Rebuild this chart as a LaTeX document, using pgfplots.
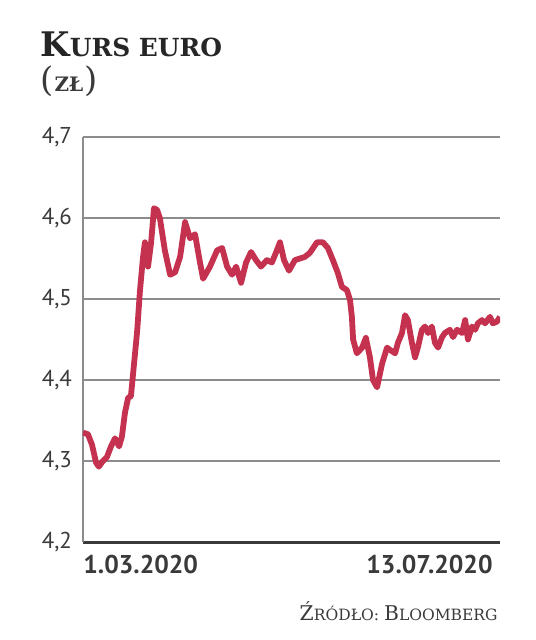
\documentclass[border=0pt]{standalone}
\usepackage{pgfplots}
\pgfplotsset{compat=1.18}
\usepackage{fontspec}
\setmainfont{DejaVu Serif}
\newfontfamily\labfont{PT Sans}
\definecolor{eurline}{HTML}{C4324F}
\definecolor{gridgray}{HTML}{8C8C8C}
\definecolor{txtgray}{HTML}{3A3A3A}

\begin{document}
\begin{tikzpicture}
\path[use as bounding box] (-41.5bp,-49bp) rectangle (226.5bp,271bp);
\begin{axis}[
  anchor=south west, at={(0,0)},
  width=208.5bp, height=202.5bp, scale only axis,
  xmin=0, xmax=134, ymin=4.2, ymax=4.7,
  xtick=\empty,
  ytick={4.2,4.3,4.4,4.5,4.6,4.7},
  ymajorgrids,
  grid style={draw=gridgray, line width=1.2bp},
  axis x line*=bottom, axis y line*=left,
  x axis line style={draw=txtgray, line width=1.5bp},
  y axis line style={draw=gridgray, line width=1bp},
  major tick length=0pt,
  /pgf/number format/fixed,
  /pgf/number format/fixed zerofill,
  /pgf/number format/precision=1,
  /pgf/number format/use comma,
  /pgf/number format/assume math mode=true,
  yticklabel style={font=\labfont\fontsize{11.5}{12}\selectfont, text=txtgray, xshift=-2bp},
]
\addplot[eurline, line width=2.9bp, line join=round] coordinates {
(0,4.335) (1.6,4.333) (2.9,4.32) (4.2,4.298) (5.1,4.293) (6.4,4.300) (7.7,4.305)
(9.0,4.318) (10.3,4.328) (11.6,4.318) (12.5,4.330) (13.5,4.36) (14.5,4.378)
(15.4,4.38) (16.4,4.42) (17.4,4.46) (18.3,4.51) (19.3,4.552) (19.9,4.57)
(20.9,4.54) (21.9,4.57) (22.8,4.612) (23.8,4.61) (24.7,4.60) (26.3,4.56)
(28.0,4.53) (29.6,4.533) (31.2,4.552) (32.8,4.595) (34.4,4.575) (36.0,4.58)
(37.6,4.545) (38.6,4.525) (40.8,4.54) (43.1,4.56) (44.7,4.563) (46.3,4.54)
(47.9,4.53) (49.2,4.54) (50.8,4.52) (52.4,4.545) (54.0,4.558) (55.6,4.548)
(57.2,4.54) (59.1,4.548) (60.7,4.545) (62.3,4.56) (63.3,4.57) (64.6,4.548)
(66.2,4.535) (68.1,4.548) (69.7,4.55) (71.3,4.552) (72.9,4.557) (75.2,4.57)
(77.1,4.57) (78.7,4.563) (80.3,4.548) (81.9,4.532) (83.2,4.515) (84.8,4.511)
(85.8,4.499) (86.4,4.478) (86.8,4.45) (88.0,4.433) (89.7,4.44) (90.9,4.452)
(92.2,4.428) (93.2,4.40) (94.5,4.391) (96.1,4.42) (97.7,4.44) (98.7,4.437)
(100.3,4.433) (101.2,4.446) (102.5,4.458) (103.5,4.48) (104.4,4.474)
(105.7,4.446) (106.7,4.428) (107.6,4.44) (108.9,4.462) (109.9,4.466)
(110.9,4.458) (112.1,4.466) (113.1,4.446) (114.1,4.44) (115.4,4.453)
(116.3,4.458) (117.9,4.462) (118.9,4.453) (120.2,4.462) (121.8,4.458)
(122.8,4.474) (123.7,4.45) (125.0,4.466) (126.0,4.462) (126.9,4.47)
(128.2,4.474) (129.2,4.47) (130.8,4.478) (131.7,4.47) (133.0,4.472) (134.0,4.478)
};
\end{axis}
% title
\node[anchor=base west, inner sep=0pt, text=black!85] at (-21.5bp,242.5bp)
  {\bfseries\fontsize{17}{18}\selectfont K\fontsize{12.5}{14}\selectfont URS EURO};
\node[anchor=base west, inner sep=0pt, text=txtgray] at (-21.5bp,225bp)
  {\fontsize{17}{18}\selectfont (\kern0.5bp\bfseries\fontsize{10}{12}\selectfont ZŁ\kern0.5bp\mdseries\fontsize{17}{18}\selectfont)};
% date labels
\node[anchor=base west, inner sep=0pt, text=txtgray] at (0bp,-15.5bp)
  {\labfont\bfseries\fontsize{12.9}{14}\selectfont 1.03.2020};
\node[anchor=base east, inner sep=0pt, text=txtgray] at (205bp,-15.5bp)
  {\labfont\bfseries\fontsize{12.9}{14}\selectfont 13.07.2020};
% source
\node[anchor=base east, inner sep=0pt, text=txtgray] at (207.5bp,-39bp)
  {\fontsize{10.2}{11}\selectfont Ź\fontsize{7.8}{9}\selectfont RÓDŁO: \fontsize{10.2}{11}\selectfont B\fontsize{7.8}{9}\selectfont LOOMBERG};
\end{tikzpicture}
\end{document}
